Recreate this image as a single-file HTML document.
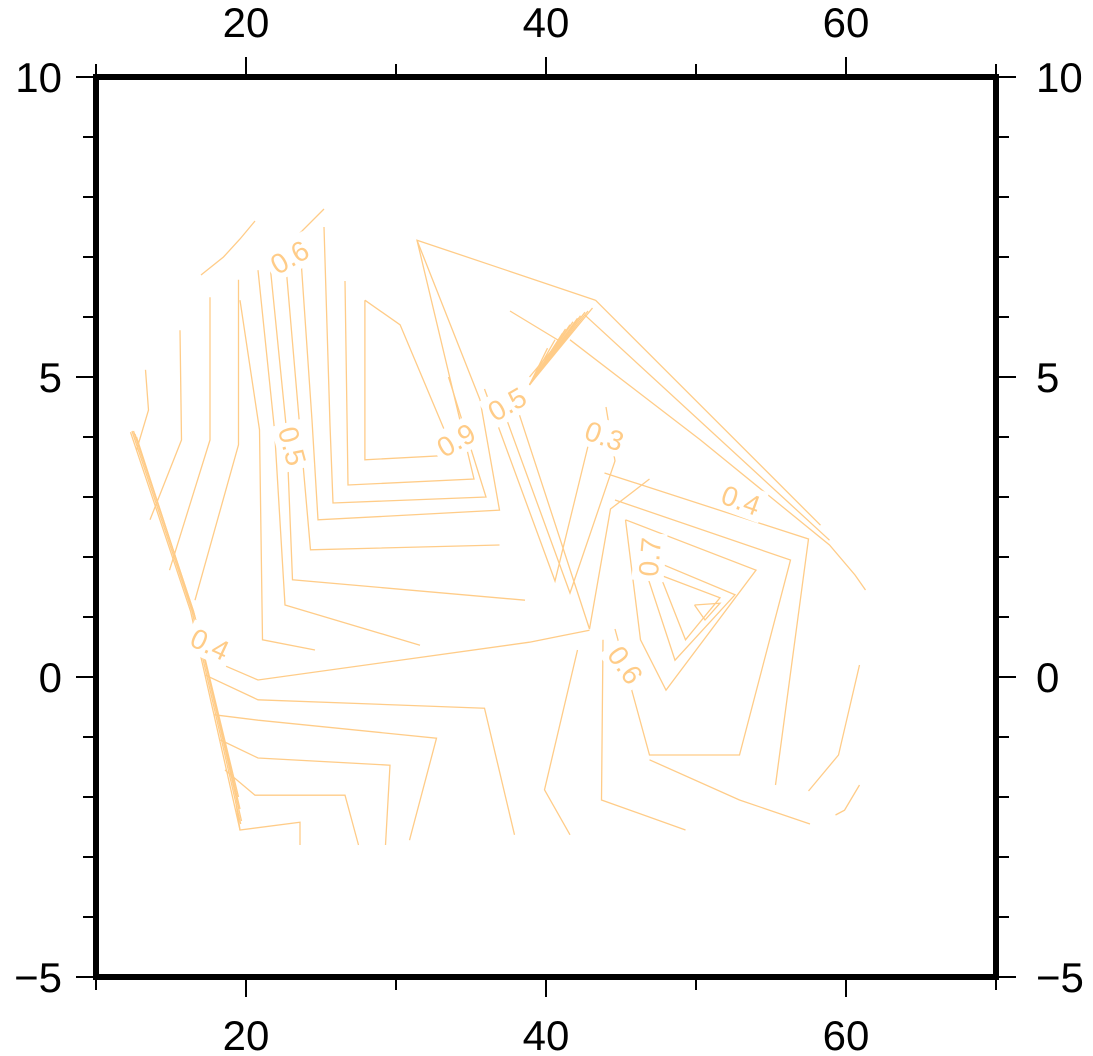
<!DOCTYPE html>
<html><head><meta charset="utf-8"><style>
html,body{margin:0;padding:0;background:#fff;}
svg{display:block;font-family:"Liberation Sans",sans-serif;}
</style></head><body>
<svg id="chart" width="1093" height="1056" viewBox="0 0 1093 1056">
<g id="contours" fill="none" stroke="#ffcc88" stroke-width="1.3" stroke-linejoin="miter"></g>
<g id="labels" fill="#ffcc88" font-size="28"></g>
<g id="axes"></g>
</svg>
<script>
const xTicksMajor = [20, 40, 60];
const xTicksMinor = [10, 20, 30, 40, 50, 60, 70];
const yTicksMajor = [10, 5, 0, -5];
const yTicksMinor = [-5,-4,-3,-2,-1,0,1,2,3,4,5,6,7,8,9,10];
const xDomain = [10, 70];
const yDomain = [-5, 10];
const contourPaths = [
 [[27.93,6.28],[30.27,5.87],[33.93,3.70],[27.93,3.62],[27.93,6.28]],
 [[26.6,6.6],[26.8,3.2],[35.2,3.3],[31.4,7.28],[43.3,6.28]],
 [[31.4,7.28],[35.6,4.62]],
 [[37.6,6.1],[40.9,5.6],[38.9,5.0]],
 [[16.9,0.37],[20.8,-0.05],[38.9,0.58],[42.9,0.78]],
 [[17.3,0.03],[20.8,-0.38],[35.9,-0.52],[37.9,-2.63]],
 [[17.9,-0.63],[20.8,-0.72],[32.7,-1.02],[30.9,-2.72]],
 [[18.3,-1.05],[20.8,-1.35],[29.6,-1.47],[29.3,-2.8]],
 [[18.6,-1.55],[20.6,-1.97],[26.6,-1.97],[27.5,-2.8]],
 [[19.3,-2.05],[19.6,-2.55],[23.6,-2.42],[23.6,-2.8]],
 [[42.1,0.45],[39.9,-1.88],[41.6,-2.63]],
 [[43.8,0.62],[43.7,-2.05],[49.3,-2.55]],
 [[46.9,-1.38],[52.9,-2.05],[57.6,-2.45]],
 [[59.3,-2.3],[59.9,-2.22],[60.9,-1.8]],
 [[19.6,6.28],[20.9,4.12],[21.1,0.62],[24.6,0.45]],
 [[20.8,6.78],[21.9,4.12],[22.6,1.2],[31.6,0.53]],
 [[21.6,6.87],[22.7,4.12],[23.1,1.62],[38.6,1.28]],
 [[22.6,7.03],[23.6,4.12],[24.3,2.12],[36.9,2.2]],
 [[23.6,7.2],[24.4,4.28],[24.8,2.62],[36.9,2.78],[35.6,4.62]],
 [[25.2,7.5],[25.6,4.2],[25.8,2.9],[36.0,3.0],[33.5,5.0]],
 [[13.3,5.12],[13.5,4.45],[12.7,3.78]],
 [[15.6,5.78],[15.7,3.95],[13.6,2.62]],
 [[17.6,6.33],[17.6,3.95],[14.9,1.78]],
 [[19.5,6.62],[19.5,3.87],[16.6,1.28]],
 [[12.3,4.08],[16.3,1.1],[19.6,-2.55]],
 [[12.4,4.1],[16.4,1.1],[19.65,-2.45]],
 [[12.5,4.1],[16.5,1.1],[19.7,-2.4]],
 [[12.6,4.05],[16.55,1.05],[19.6,-2.2]],
 [[12.7,4.0],[16.6,1.0],[19.5,-2.0]],
 [[43.3,6.28],[58.3,2.53]],
 [[42.6,6.03],[58.9,2.28]],
 [[41.6,5.62],[50.3,3.95],[58.9,2.2],[60.6,1.7],[61.3,1.45]],
 [[49.9,1.2],[51.6,1.23],[50.6,0.95],[49.9,1.2]],
 [[47.6,1.7],[51.6,1.32],[49.3,0.62],[47.6,1.7]],
 [[46.3,2.03],[52.6,1.37],[48.6,0.28],[46.3,2.03]],
 [[45.3,2.62],[54.0,1.78],[48.0,-0.22],[46.3,0.62],[45.3,2.62]],
 [[44.6,2.95],[56.3,1.95],[52.9,-1.3],[46.9,-1.3],[44.6,0.8]],
 [[43.9,3.4],[57.5,2.3],[55.3,-1.8]],
 [[60.9,0.2],[59.5,-1.3],[57.5,-1.9]],
 [[36.9,4.62],[41.6,1.4],[44.6,3.6],[44.0,4.5]],
 [[37.9,4.62],[42.9,0.8],[44.3,2.8],[46.9,3.3]],
 [[35.9,4.8],[40.6,1.6],[42.9,3.95]],
 [[38.9,4.87],[43.1,6.15]],[[38.9,4.87],[42.8,6.1]],[[38.9,4.87],[42.6,6.08]],[[38.9,4.87],[42.3,6.02]],[[38.9,4.87],[42.1,5.98]],
 [[38.9,4.87],[41.8,5.92]],[[38.9,4.87],[41.6,5.87]],[[38.9,4.87],[41.3,5.8]],[[38.9,4.87],[41.1,5.73]],[[38.9,4.87],[40.6,5.62]],
 [[38.9,4.87],[40.1,5.48]],
 [[17.0,6.7],[18.5,7.0],[19.6,7.3],[20.6,7.6]],
 [[22.6,7.03],[23.6,7.4],[25.2,7.8]]
];
const labelTexts = ["0.6","0.5","0.4","0.9","0.5","0.3","0.4","0.7","0.6"];
const labelX = [22.9,23.1,17.6,34.0,37.4,43.9,53.0,46.9,45.3];
const labelY = [7.0,3.85,0.55,3.95,4.55,4.02,2.95,2.0,0.2];
const labelRot = [-30,75,25,-30,-30,20,20,-85,55];

const L=96,R=996,T=77,B=977;
const sx=v=>L+(v-xDomain[0])/(xDomain[1]-xDomain[0])*(R-L);
const sy=v=>B-(v-yDomain[0])/(yDomain[1]-yDomain[0])*(B-T);
const NS="http://www.w3.org/2000/svg";
function mk(tag,parent){const e=document.createElementNS(NS,tag);parent.appendChild(e);return e;}
const gC=document.getElementById('contours');
contourPaths.forEach((p,i)=>{
 const e=mk('polyline',gC);
 e.setAttribute('points',p.map(q=>sx(q[0]).toFixed(1)+','+sy(q[1]).toFixed(1)).join(' '));
 
 
});
const gL=document.getElementById('labels');
labelTexts.forEach((t,i)=>{
 const x=sx(labelX[i]),y=sy(labelY[i]);
 const bg=mk('rect',gL);
 bg.setAttribute('x',x-24);bg.setAttribute('y',y-16);bg.setAttribute('width',48);bg.setAttribute('height',32);
 bg.setAttribute('fill','#fff');
 bg.setAttribute('transform',`rotate(${labelRot[i]} ${x} ${y})`);
 
 
 const e=mk('text',gL);
 e.textContent=t;
 e.setAttribute('x',x);e.setAttribute('y',y+10);e.setAttribute('text-anchor','middle');
 e.setAttribute('transform',`rotate(${labelRot[i]} ${x} ${y})`);
 
 
});
const gA=document.getElementById('axes');
const fr=mk('rect',gA);
fr.setAttribute('x',L);fr.setAttribute('y',T);fr.setAttribute('width',R-L);fr.setAttribute('height',B-T);
fr.setAttribute('fill','none');fr.setAttribute('stroke','#000');fr.setAttribute('stroke-width','6');


function tick(x1,y1,x2,y2){const t=mk('line',gA);t.setAttribute('x1',x1);t.setAttribute('y1',y1);t.setAttribute('x2',x2);t.setAttribute('y2',y2);t.setAttribute('stroke','#000');t.setAttribute('stroke-width','2');
 
 }
xTicksMinor.forEach(v=>{const x=sx(v);const len=xTicksMajor.includes(v)?20:13;tick(x,T,x,T-len);tick(x,B,x,B+len);});
yTicksMinor.forEach(v=>{const y=sy(v);const len=yTicksMajor.includes(v)?20:13;tick(L,y,L-len,y);tick(R,y,R+len,y);});
function lab(t,x,y,anchor,name){const e=mk('text',gA);e.textContent=t;e.setAttribute('x',x);e.setAttribute('y',y);e.setAttribute('text-anchor',anchor);e.setAttribute('font-size','42');
 
 }
xTicksMajor.forEach(v=>{lab(String(v),sx(v),37,'middle','x-tick-label-top');lab(String(v),sx(v),1050,'middle','x-tick-label-bottom');});
yTicksMajor.forEach(v=>{const s=v<0?'\u2212'+Math.abs(v):String(v);lab(s,62,sy(v)+15,'end','y-tick-label-left');lab(s,1036,sy(v)+15,'start','y-tick-label-right');});
</script>
</body></html>
